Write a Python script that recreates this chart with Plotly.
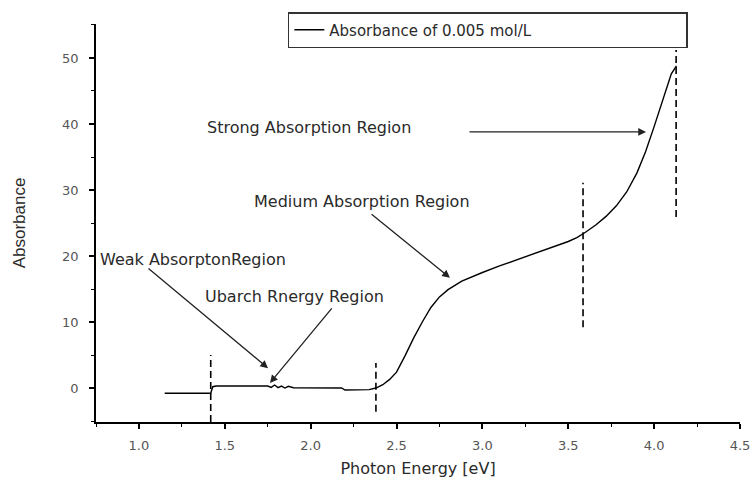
import plotly.graph_objects as go

# ---- data -------------------------------------------------------------
energy = [1.15, 1.40, 1.418, 1.43, 1.45, 1.55, 1.65, 1.75, 1.77, 1.79, 1.81, 1.83, 1.85, 1.87, 1.90,
          2.00, 2.10, 2.18, 2.20, 2.28, 2.34, 2.38, 2.42, 2.46, 2.50, 2.55, 2.60, 2.65,
          2.70, 2.75, 2.80, 2.88, 2.95, 3.00, 3.10, 3.20, 3.30, 3.40, 3.50, 3.55,
          3.60, 3.66, 3.72, 3.78, 3.84, 3.90, 3.95, 4.00, 4.04, 4.08, 4.10, 4.13]
absorbance = [-0.8, -0.8, -0.8, 0.2, 0.3, 0.3, 0.3, 0.3, 0.1, 0.45, 0.05, 0.3, 0.0, 0.25, 0.05,
              0.0, 0.0, 0.0, -0.3, -0.3, -0.25, 0.0, 0.5, 1.3, 2.4, 4.9, 7.6, 10.0,
              12.2, 13.8, 14.9, 16.2, 17.0, 17.5, 18.5, 19.4, 20.4, 21.3, 22.2, 22.8,
              23.6, 24.7, 26.0, 27.6, 29.7, 32.6, 35.8, 39.6, 42.9, 46.2, 47.6, 48.8]
series_name = "Absorbance of 0.005 mol/L"

# region boundaries (dashed markers): x position, y start, y end
boundary_x = [1.418, 2.38, 3.586, 4.128]
boundary_y0 = [-5.15, -3.6, 9.2, 25.9]
boundary_y1 = [5.0, 3.8, 31.1, 51.2]

# annotation labels: text, label position, arrow tail, arrow head
label_text = ["Strong Absorption Region", "Medium Absorption Region",
              "Weak AbsorptonRegion", "Ubarch Rnergy Region"]
label_x = [1.385, 1.658, 0.762, 1.373]
label_y = [39.4, 28.2, 19.4, 13.8]
arrow_tail_x = [2.916, 2.346, 1.047, 2.130]
arrow_tail_y = [38.8, 26.5, 18.3, 12.3]
arrow_head_x = [3.953, 2.811, 1.752, 1.763]
arrow_head_y = [38.8, 16.7, 3.0, 0.76]

x_ticks = [1.0, 1.5, 2.0, 2.5, 3.0, 3.5, 4.0, 4.5]
y_ticks = [0, 10, 20, 30, 40, 50]

# ---- figure -----------------------------------------------------------
FONT = "DejaVu Sans"
fig = go.Figure()

fig.add_trace(go.Scatter(x=energy, y=absorbance, mode="lines", name=series_name,
                         line=dict(color="black", width=1.4)))

for bx, by0, by1 in zip(boundary_x, boundary_y0, boundary_y1):
    fig.add_trace(go.Scatter(x=[bx, bx], y=[by0, by1], mode="lines", showlegend=False,
                             hoverinfo="skip",
                             line=dict(color="black", width=1.6, dash="7px,4px")))

annotations = []
for t, lx, ly in zip(label_text, label_x, label_y):
    annotations.append(dict(x=lx, y=ly, xref="x", yref="y", text=t, showarrow=False,
                            xanchor="left", yanchor="middle",
                            font=dict(family=FONT, size=16, color="#2a2a2a")))
for tx, ty, hx, hy in zip(arrow_tail_x, arrow_tail_y, arrow_head_x, arrow_head_y):
    annotations.append(dict(x=hx, y=hy, ax=tx, ay=ty, xref="x", yref="y",
                            axref="x", ayref="y", text="", showarrow=True,
                            arrowhead=2, arrowsize=1.2, arrowwidth=1.3,
                            arrowcolor="#222"))

fig.update_layout(
    width=752, height=478,
    margin=dict(l=96, r=12, t=24, b=56, autoexpand=False),
    paper_bgcolor="white", plot_bgcolor="white",
    annotations=annotations,
    showlegend=True,
    legend=dict(orientation="h", x=0.919, xanchor="right", y=1.03, yanchor="top",
                bordercolor="#333", borderwidth=1.5, bgcolor="white",
                entrywidth=352, entrywidthmode="pixels",
                font=dict(family=FONT, size=15, color="#2a2a2a")),
    xaxis=dict(range=[0.75, 4.5], tickvals=x_ticks, ticktext=[f"{v:.1f}" for v in x_ticks],
               automargin=False,
               showgrid=False, zeroline=False, showline=True, linecolor="black", linewidth=1.8,
               ticks="outside", ticklen=5, tickwidth=1.5, tickcolor="black",
               ticklabelstandoff=5,
               minor=dict(dtick=0.25, tick0=0.75, ticks="outside", ticklen=3, tickwidth=1.2,
                          tickcolor="black", showgrid=False),
               tickfont=dict(family=FONT, size=13, color="#555"),
               title=dict(text="Photon Energy [eV]", standoff=12,
                          font=dict(family=FONT, size=16, color="#2a2a2a"))),
    yaxis=dict(range=[-5.15, 55.15], tickvals=y_ticks,
               automargin=False,
               showgrid=False, zeroline=False, showline=True, linecolor="black", linewidth=1.8,
               ticks="outside", ticklen=5, tickwidth=1.5, tickcolor="black",
               ticklabelstandoff=8,
               minor=dict(dtick=5, tick0=0, ticks="outside", ticklen=3, tickwidth=1.2,
                          tickcolor="black", showgrid=False),
               tickfont=dict(family=FONT, size=13, color="#555"),
               title=dict(text="Absorbance", standoff=32,
                          font=dict(family="Liberation Sans", size=17, color="#2a2a2a"))),
)

fig.write_html("out.html")
